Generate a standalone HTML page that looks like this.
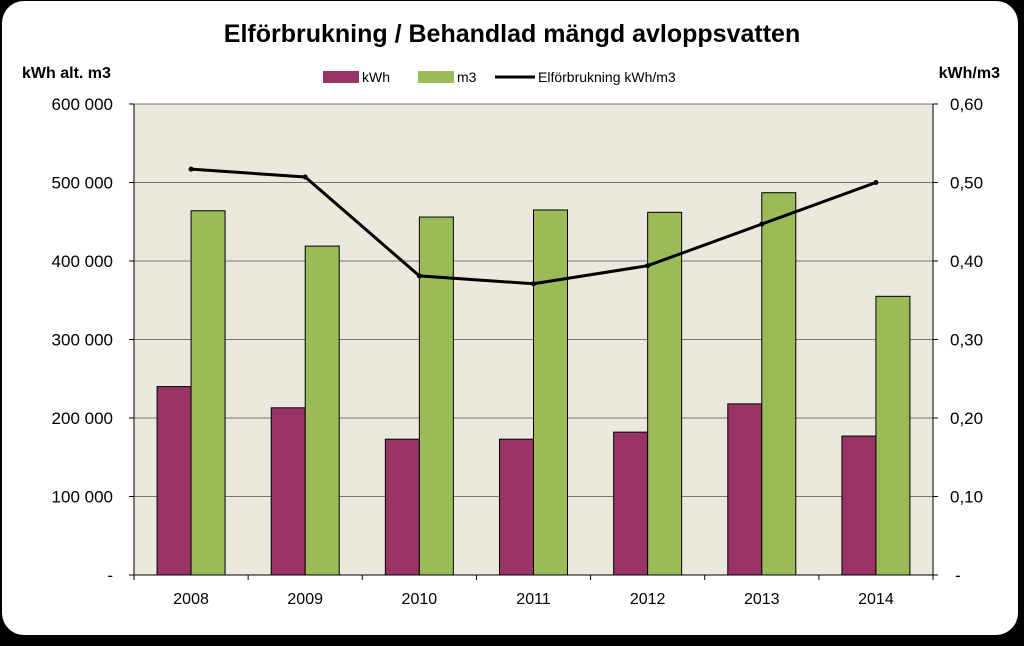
<!DOCTYPE html>
<html><head><meta charset="utf-8"><style>
body{margin:0;background:#000;width:1024px;height:641px;overflow:hidden;font-family:"Liberation Sans",sans-serif}
</style></head><body>
<svg id="chart" width="1024" height="641" xmlns="http://www.w3.org/2000/svg">
<rect x="2" y="1" width="1016" height="634" rx="22" fill="#fff"/>
<text x="512" y="42" text-anchor="middle" font-size="25" font-weight="bold" font-family="Liberation Sans, sans-serif">Elförbrukning / Behandlad mängd avloppsvatten</text>
<text x="22" y="78" font-size="16" font-weight="bold">kWh alt. m3</text>
<text x="1000" y="78" text-anchor="end" font-size="16" font-weight="bold">kWh/m3</text>
<g>
<rect x="323" y="71" width="36" height="12" fill="#993366"/>
<text x="362" y="82" font-size="14">kWh</text>
<rect x="418" y="71" width="36" height="12" fill="#9bbb59"/>
<text x="457" y="82" font-size="14">m3</text>
<line x1="495" y1="77" x2="535" y2="77" stroke="#000" stroke-width="3"/>
<text x="538" y="82" font-size="14">Elförbrukning kWh/m3</text>
</g>
<rect x="134" y="104" width="799" height="471" fill="#ebe8dd"/>
<g id="grid"></g><g id="bars"></g><g id="line"></g><g id="axes"></g>
</svg>
<script>
const categories=["2008","2009","2010","2011","2012","2013","2014"];
const kwhValues=[240000,213000,173000,173000,182000,218000,177000];
const m3Values=[464000,419000,456000,465000,462000,487000,355000];
const ratioValues=[0.517,0.507,0.381,0.371,0.394,0.447,0.500];
const leftTicks=["-","100 000","200 000","300 000","400 000","500 000","600 000"];
const rightTicks=["-","0,10","0,20","0,30","0,40","0,50","0,60"];
const NS="http://www.w3.org/2000/svg";
const L=134,R=933,T=104,B=575;
const yL=v=>B-(v/600000)*(B-T);
const yR=v=>B-(v/0.6)*(B-T);
const cw=(R-L)/categories.length;
const cx=i=>L+cw*(i+0.5);
function mk(tag,attrs,parent){const e=document.createElementNS(NS,tag);for(const k in attrs)e.setAttribute(k,attrs[k]);document.getElementById(parent).appendChild(e);return e;}
leftTicks.forEach((t,i)=>{
  const y=yL(i*100000);
  if(i>0){const g=mk("line",{x1:L,x2:R,y1:y,y2:y,stroke:"#777","stroke-width":1},"grid");
  
  }
  const tx=mk("text",{x:113,y:y+6,"text-anchor":"end","font-size":17},"axes");tx.textContent=t;
  
  
  const tr=mk("text",{x:i==0?955:950,y:y+6,"font-size":17},"axes");tr.textContent=rightTicks[i];
  
  
  mk("line",{x1:L-5,x2:L,y1:y,y2:y,stroke:"#000"},"axes");
  mk("line",{x1:R,x2:R+5,y1:y,y2:y,stroke:"#000"},"axes");
});
const bw=34;
categories.forEach((c,i)=>{
  const k=mk("rect",{x:cx(i)-bw,y:yL(kwhValues[i]),width:bw,height:B-yL(kwhValues[i]),fill:"#993366",stroke:"#000","stroke-width":1},"bars");
  
  
  const m=mk("rect",{x:cx(i),y:yL(m3Values[i]),width:bw,height:B-yL(m3Values[i]),fill:"#9bbb59",stroke:"#000","stroke-width":1},"bars");
  
  
  const t=mk("text",{x:cx(i),y:B+29,"text-anchor":"middle","font-size":16},"axes");t.textContent=c;
  
  
  mk("line",{x1:L+cw*i,x2:L+cw*i,y1:B,y2:B+5,stroke:"#000"},"axes");
});
mk("line",{x1:R,x2:R,y1:B,y2:B+5,stroke:"#000"},"axes");
const pl=mk("polyline",{points:ratioValues.map((v,i)=>cx(i)+","+yR(v)).join(" "),fill:"none",stroke:"#000","stroke-width":3},"line");


ratioValues.forEach((v,i)=>{const p=mk("circle",{cx:cx(i),cy:yR(v),r:2.5,fill:"#000"},"line");

});
const a1=mk("line",{x1:L,x2:L,y1:T,y2:B,stroke:"#000"},"axes");


const a2=mk("line",{x1:R,x2:R,y1:T,y2:B,stroke:"#000"},"axes");


const a3=mk("line",{x1:L,x2:R,y1:B,y2:B,stroke:"#000"},"axes");


</script>
</body></html>
